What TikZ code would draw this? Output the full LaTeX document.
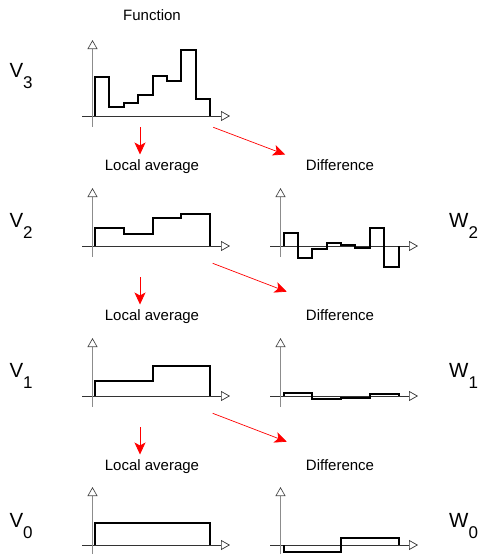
\documentclass[tikz,border=0pt]{standalone}
\usepackage{fontspec}
\setmainfont{Liberation Sans}
\usetikzlibrary{positioning,arrows.meta}
\tikzset{
  axisx/.style={draw=black!80, line width=0.7pt, -{Triangle[open, length=9pt, width=10pt]}},
  axisy/.style={draw=black!45, line width=0.7pt, -{Triangle[open, length=9pt, width=10pt, color=black!70]}},
  fnline/.style={line width=2pt, line join=miter},
  redarrow/.style={draw=red, line width=0.7pt, -{Stealth[length=12pt, width=11pt, inset=3pt, fill=red]}},
  caption/.style={font=\fontsize{15}{18}\selectfont, inner sep=0pt, anchor=base},
  spacelbl/.style={font=\fontsize{20.5}{22}\selectfont, inner sep=0pt, anchor=base west}
}
\newcommand{\drawaxes}[1]{%
  \draw[axisx] (-10.5,0) -- (137.5,0);
  \draw[axisy] (0,-10.5) -- (0,#1);}
\newcommand{\stepfn}[3][2.5]{%
  \draw[fnline] (#1,0) foreach \h [count=\i] in {#3} { |- ({#1+#2*\i},\h) } -- ({#1+115},0);}
\newcommand{\spacename}[2]{#1\raisebox{-11pt}{\fontsize{17}{18}\selectfont #2}}

\begin{document}
\begin{tikzpicture}[x=1pt, y=-1pt]
  \useasboundingbox (0,0) rectangle (490,554);

  % origins of the graphs
  \coordinate (v3) at (92.5,116);
  \coordinate (v2) at (92.5,246);
  \coordinate (w2) at (280.5,246);
  \coordinate (v1) at (92.5,396);
  \coordinate (w1) at (280.5,396);
  \coordinate (v0) at (92.5,545);
  \coordinate (w0) at (280.5,545);

  % V3: the function
  \begin{scope}[shift={(v3)}, yscale=-1]
    \drawaxes{76}
    \stepfn{14.375}{39,9,13,21,40,35,66,17}
  \end{scope}

  % V2 and W2
  \begin{scope}[shift={(v2)}, yscale=-1]
    \drawaxes{58}
    \stepfn{28.75}{18,12,28,32}
  \end{scope}
  \begin{scope}[shift={(w2)}, yscale=-1]
    \drawaxes{58}
    \stepfn[3]{14.375}{13,-12,-3,3,1,-2,18,-21}
  \end{scope}

  % V1 and W1
  \begin{scope}[shift={(v1)}, yscale=-1]
    \drawaxes{58}
    \stepfn{57.5}{15,30}
  \end{scope}
  \begin{scope}[shift={(w1)}, yscale=-1]
    \drawaxes{58}
    \stepfn[3]{28.75}{3,-3,-2,2}
  \end{scope}

  % V0 and W0
  \begin{scope}[shift={(v0)}, yscale=-1]
    \drawaxes{58}
    \stepfn{115}{22}
  \end{scope}
  \begin{scope}[shift={(w0)}, yscale=-1]
    \drawaxes{58}
    \stepfn[3]{57.5}{-7,7}
  \end{scope}

  % captions
  \node[caption] (func) at (152,20.7) {Function};
  \node[caption] (avg2) at (152,170.3) {Local average};
  \node[caption] (diff2) at (340,170.3) {Difference};
  \node[caption] (avg1) at (152,320.3) {Local average};
  \node[caption] (diff1) at (340,320.3) {Difference};
  \node[caption] (avg0) at (152,470.3) {Local average};
  \node[caption] (diff0) at (340,470.3) {Difference};

  % space names
  \node[spacelbl] (lv3) at (9.3,77.3) {\spacename{V}{3}};
  \node[spacelbl] (lv2) at (9.3,227.3) {\spacename{V}{2}};
  \node[spacelbl] (lv1) at (9.3,377.3) {\spacename{V}{1}};
  \node[spacelbl] (lv0) at (9.3,527.3) {\spacename{V}{0}};
  \node[spacelbl] (lw2) at (449,227.3) {\spacename{W}{2}};
  \node[spacelbl] (lw1) at (449,377.3) {\spacename{W}{1}};
  \node[spacelbl] (lw0) at (449,527.3) {\spacename{W}{0}};

  % red arrows
  \coordinate (a3s) at (140,127);    \coordinate (a3e) at (140,154.5);
  \coordinate (d3s) at (213.3,127.3); \coordinate (d3e) at (285,154.5);
  \coordinate (a2s) at (140,277);    \coordinate (a2e) at (140,304.5);
  \coordinate (d2s) at (212.7,263.3); \coordinate (d2e) at (286.7,291.7);
  \coordinate (a1s) at (140,427);    \coordinate (a1e) at (140,454.5);
  \coordinate (d1s) at (212.7,413.3); \coordinate (d1e) at (286.7,441.7);
  \foreach \s/\e in {a3s/a3e, d3s/d3e, a2s/a2e, d2s/d2e, a1s/a1e, d1s/d1e}
    \draw[redarrow] (\s) -- (\e);
\end{tikzpicture}
\end{document}
